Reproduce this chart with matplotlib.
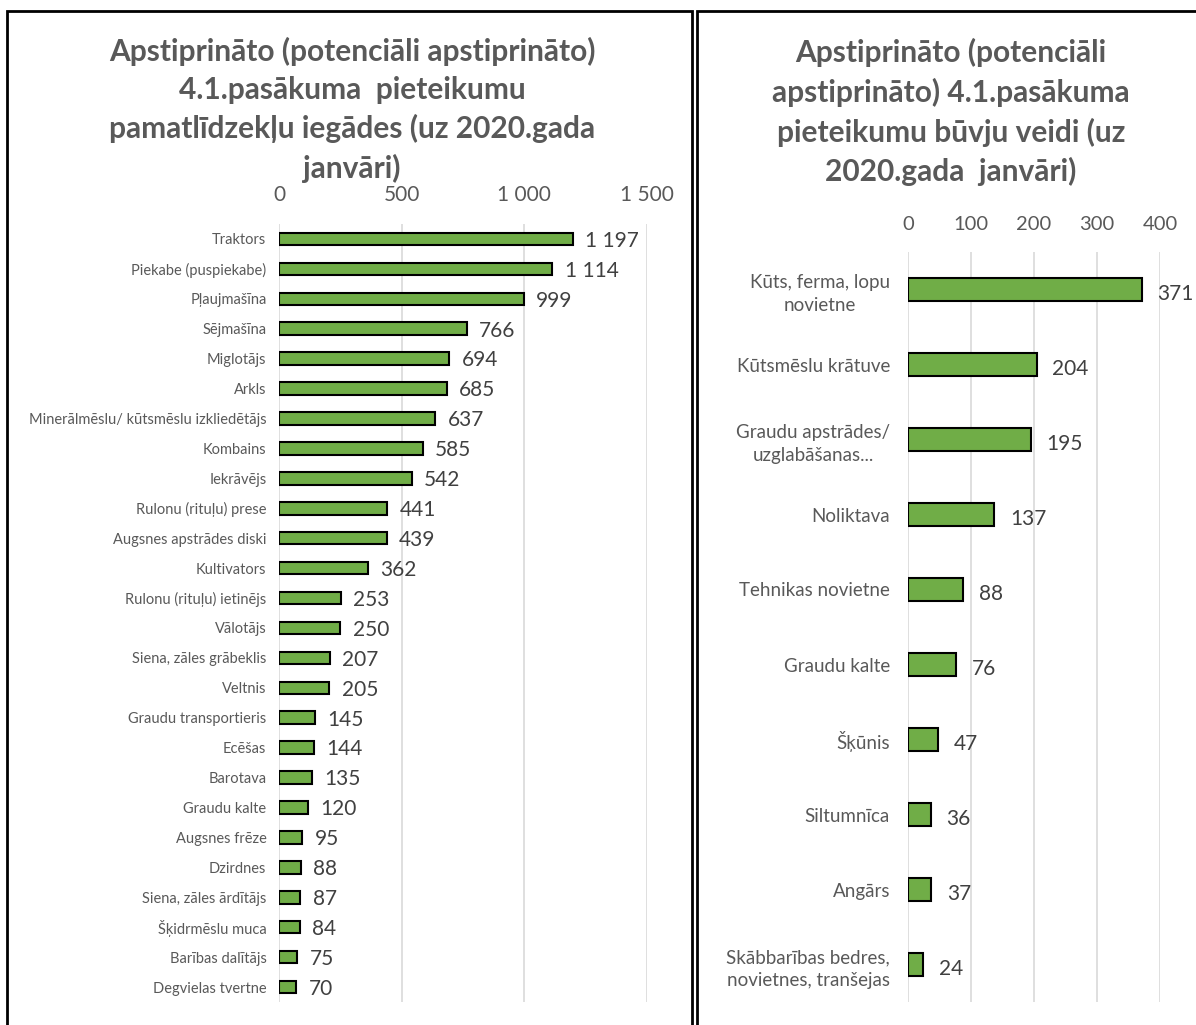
import matplotlib
matplotlib.use("Agg")
import matplotlib.pyplot as plt
from matplotlib.patches import Rectangle

plt.rcParams['font.family'] = ['Lato', 'DejaVu Sans']

# ---- data: left chart ----
left_categories = [
    "Traktors", "Piekabe (puspiekabe)", "Pļaujmašīna", "Sējmašīna", "Miglotājs",
    "Arkls", "Minerālmēslu/ kūtsmēslu izkliedētājs", "Kombains", "Iekrāvējs",
    "Rulonu (rituļu) prese", "Augsnes apstrādes diski", "Kultivators",
    "Rulonu (rituļu) ietinējs", "Vālotājs", "Siena, zāles grābeklis", "Veltnis",
    "Graudu transportieris", "Ecēšas", "Barotava", "Graudu kalte", "Augsnes frēze",
    "Dzirdnes", "Siena, zāles ārdītājs", "Šķidrmēslu muca", "Barības dalītājs",
    "Degvielas tvertne",
]
left_values = [1197, 1114, 999, 766, 694, 685, 637, 585, 542, 441, 439, 362,
               253, 250, 207, 205, 145, 144, 135, 120, 95, 88, 87, 84, 75, 70]
left_ticks = [0, 500, 1000, 1500]
left_ticklabels = ["0", "500", "1 000", "1 500"]
left_title = ("Apstiprināto (potenciāli apstiprināto)\n4.1.pasākuma  pieteikumu\n"
              "pamatlīdzekļu iegādes (uz 2020.gada\njanvāri)")

# ---- data: right chart ----
right_categories = [
    "Kūts, ferma, lopu\nnovietne", "Kūtsmēslu krātuve", "Graudu apstrādes/\nuzglabāšanas...",
    "Noliktava", "Tehnikas novietne", "Graudu kalte", "Šķūnis", "Siltumnīca", "Angārs",
    "Skābbarības bedres,\nnovietnes, tranšejas",
]
right_values = [371, 204, 195, 137, 88, 76, 47, 36, 37, 24]
right_ticks = [0, 100, 200, 300, 400]
right_ticklabels = ["0", "100", "200", "300", "400"]
right_title = ("Apstiprināto (potenciāli\napstiprināto) 4.1.pasākuma\n"
               "pieteikumu būvju veidi (uz\n2020.gada  janvāri)")

GREEN = "#70AD47"
GREY = "#595959"
GRID = "#D9D9D9"

W, H = 1196, 1025
fig = plt.figure(figsize=(W / 100, H / 100), dpi=100)


def fx(px):
    return px / W


def fy(py):
    return 1 - py / H


# panel borders
fig.patches.append(Rectangle((fx(7), fy(1040)), fx(692) - fx(7), fy(11) - fy(1040),
                             transform=fig.transFigure, fill=False, ec="black", lw=2, clip_on=False))
fig.patches.append(Rectangle((fx(697), fy(1040)), fx(1210) - fx(697), fy(11) - fy(1040),
                             transform=fig.transFigure, fill=False, ec="black", lw=2, clip_on=False))


def setup(ax, cats, vals, ticks, ticklabels, xmax, bar_h, cat_fs, lab_fs, tick_fs, lab_off,
          ypad):
    y = list(range(len(cats)))
    ax.barh(y, vals, height=bar_h, color=GREEN, edgecolor="black", linewidth=1.5, zorder=3)
    ax.set_xlim(0, xmax)
    ax.set_ylim(len(cats) - 0.5, -0.5)
    ax.set_yticks(y)
    ax.set_yticklabels(cats, fontsize=cat_fs, color=GREY)
    ax.set_xticks(ticks)
    ax.set_xticklabels(ticklabels, fontsize=tick_fs, color=GREY)
    ax.xaxis.tick_top()
    ax.tick_params(axis="both", length=0)
    ax.tick_params(axis="x", pad=14)
    ax.tick_params(axis="y", pad=ypad)
    ax.grid(axis="x", color=GRID, linewidth=1.2, zorder=0)
    for s in ax.spines.values():
        s.set_visible(False)
    for yi, v in zip(y, vals):
        txt = f"{v:,}".replace(",", " ")
        ax.text(v + lab_off, yi + 0.06, txt, va="center", ha="left", fontsize=lab_fs,
                color="#404040")


axL = fig.add_axes([fx(279), fy(1002), fx(647) - fx(279), fy(224) - fy(1002)])
setup(axL, left_categories, left_values, left_ticks, left_ticklabels, 1500, 0.42,
      10.5, 15, 15, 50, 9)

axR = fig.add_axes([fx(908), fy(1002), fx(1160) - fx(908), fy(252) - fy(1002)])
setup(axR, right_categories, right_values, right_ticks, right_ticklabels, 400, 0.3,
      13.5, 15, 14.5, 25, 13)
for t in axR.get_yticklabels():
    t.set_multialignment("center")
    t.set_linespacing(1.4)

fig.text(fx(352), fy(110), left_title, ha="center", va="center", fontsize=21.5,
         fontweight="bold", color=GREY, linespacing=1.42)
fig.text(fx(951), fy(112), right_title, ha="center", va="center", fontsize=21.5,
         fontweight="bold", color=GREY, linespacing=1.45)

fig.savefig("out.png", dpi=100)
